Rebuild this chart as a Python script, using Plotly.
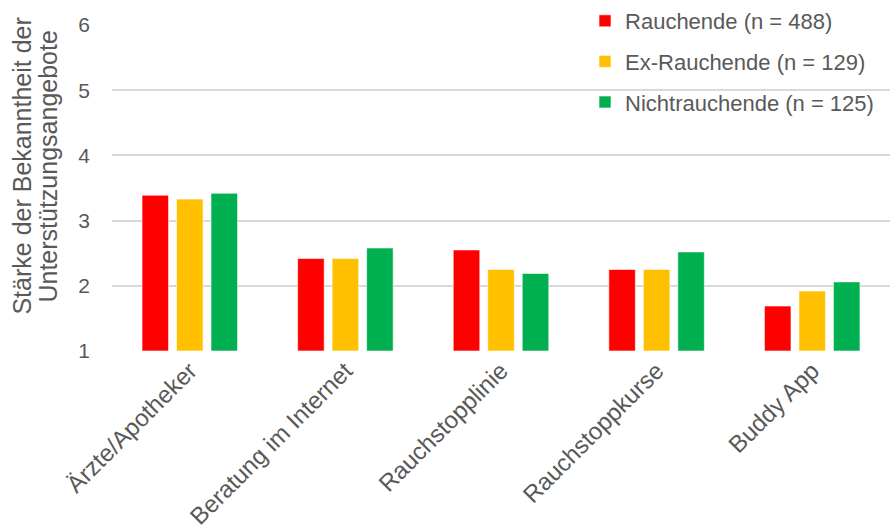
import plotly.graph_objects as go

# Support offers and mean familiarity per group (scale 1-6)
categories = ["Ärzte/Apotheker", "Beratung im Internet", "Rauchstopplinie",
              "Rauchstoppkurse", "Buddy App"]
series_names = ["Rauchende (n = 488)", "Ex-Rauchende (n = 129)",
                "Nichtrauchende (n = 125)"]
rauchende = [3.39, 2.42, 2.55, 2.25, 1.69]
ex_rauchende = [3.33, 2.42, 2.25, 2.25, 1.92]
nichtrauchende = [3.42, 2.58, 2.19, 2.52, 2.06]
y_ticks = [1, 2, 3, 4, 5, 6]
y_title_lines = ["Stärke der Bekanntheit der", "Unterstützungsangebote"]

colors = ["#FF0000", "#FFC000", "#00B050"]
values = [rauchende, ex_rauchende, nichtrauchende]
base_value = 1

FONT = "Liberation Sans, Arial, sans-serif"
GREY = "#595959"

fig = go.Figure()
for i, (name, vals, col) in enumerate(zip(series_names, values, colors)):
    fig.add_trace(go.Bar(
        x=categories,
        y=[v - base_value for v in vals],
        base=base_value,
        name=name,
        legendgroup=f"g{i}",
        marker=dict(color=col, line=dict(color="rgba(255,255,255,0.6)", width=1)),
        hovertemplate="%{x}: %{customdata}<extra>" + name + "</extra>",
        customdata=vals,
    ))

# Two-line vertical axis title, placed line by line
for line, xpx in zip(y_title_lines, [22, 48]):
    fig.add_annotation(
        text=line,
        xref="paper", yref="paper",
        x=(xpx - 112) / 778, y=(351 - 166) / 327,
        xanchor="center", yanchor="middle",
        textangle=-90,
        showarrow=False,
        font=dict(size=25, color=GREY, family=FONT),
    )

fig.update_layout(
    width=891,
    height=530,
    margin=dict(l=112, r=1, t=24, b=179),
    paper_bgcolor="white",
    plot_bgcolor="white",
    barmode="group",
    bargap=0.335,
    bargroupgap=0.23,
    font=dict(family=FONT, color=GREY, size=20),
    legend=dict(
        x=0.608, y=1.075, xanchor="left", yanchor="top",
        bgcolor="rgba(0,0,0,0)",
        font=dict(size=22, color=GREY, family=FONT),
        traceorder="grouped",
        tracegroupgap=9,
        itemwidth=30,
    ),
    xaxis=dict(
        tickangle=-45,
        tickfont=dict(size=24, color=GREY),
        showgrid=False,
        showline=False,
        ticks="",
    ),
    yaxis=dict(
        range=[1, 6],
        tickvals=y_ticks,
        tickfont=dict(size=21, color=GREY),
        showgrid=True,
        gridcolor="#D9D9D9",
        gridwidth=1.5,
        zeroline=False,
        showline=False,
        ticks="",
        ticklabelstandoff=21,
    ),
    showlegend=True,
)

fig.write_html("out.html")
